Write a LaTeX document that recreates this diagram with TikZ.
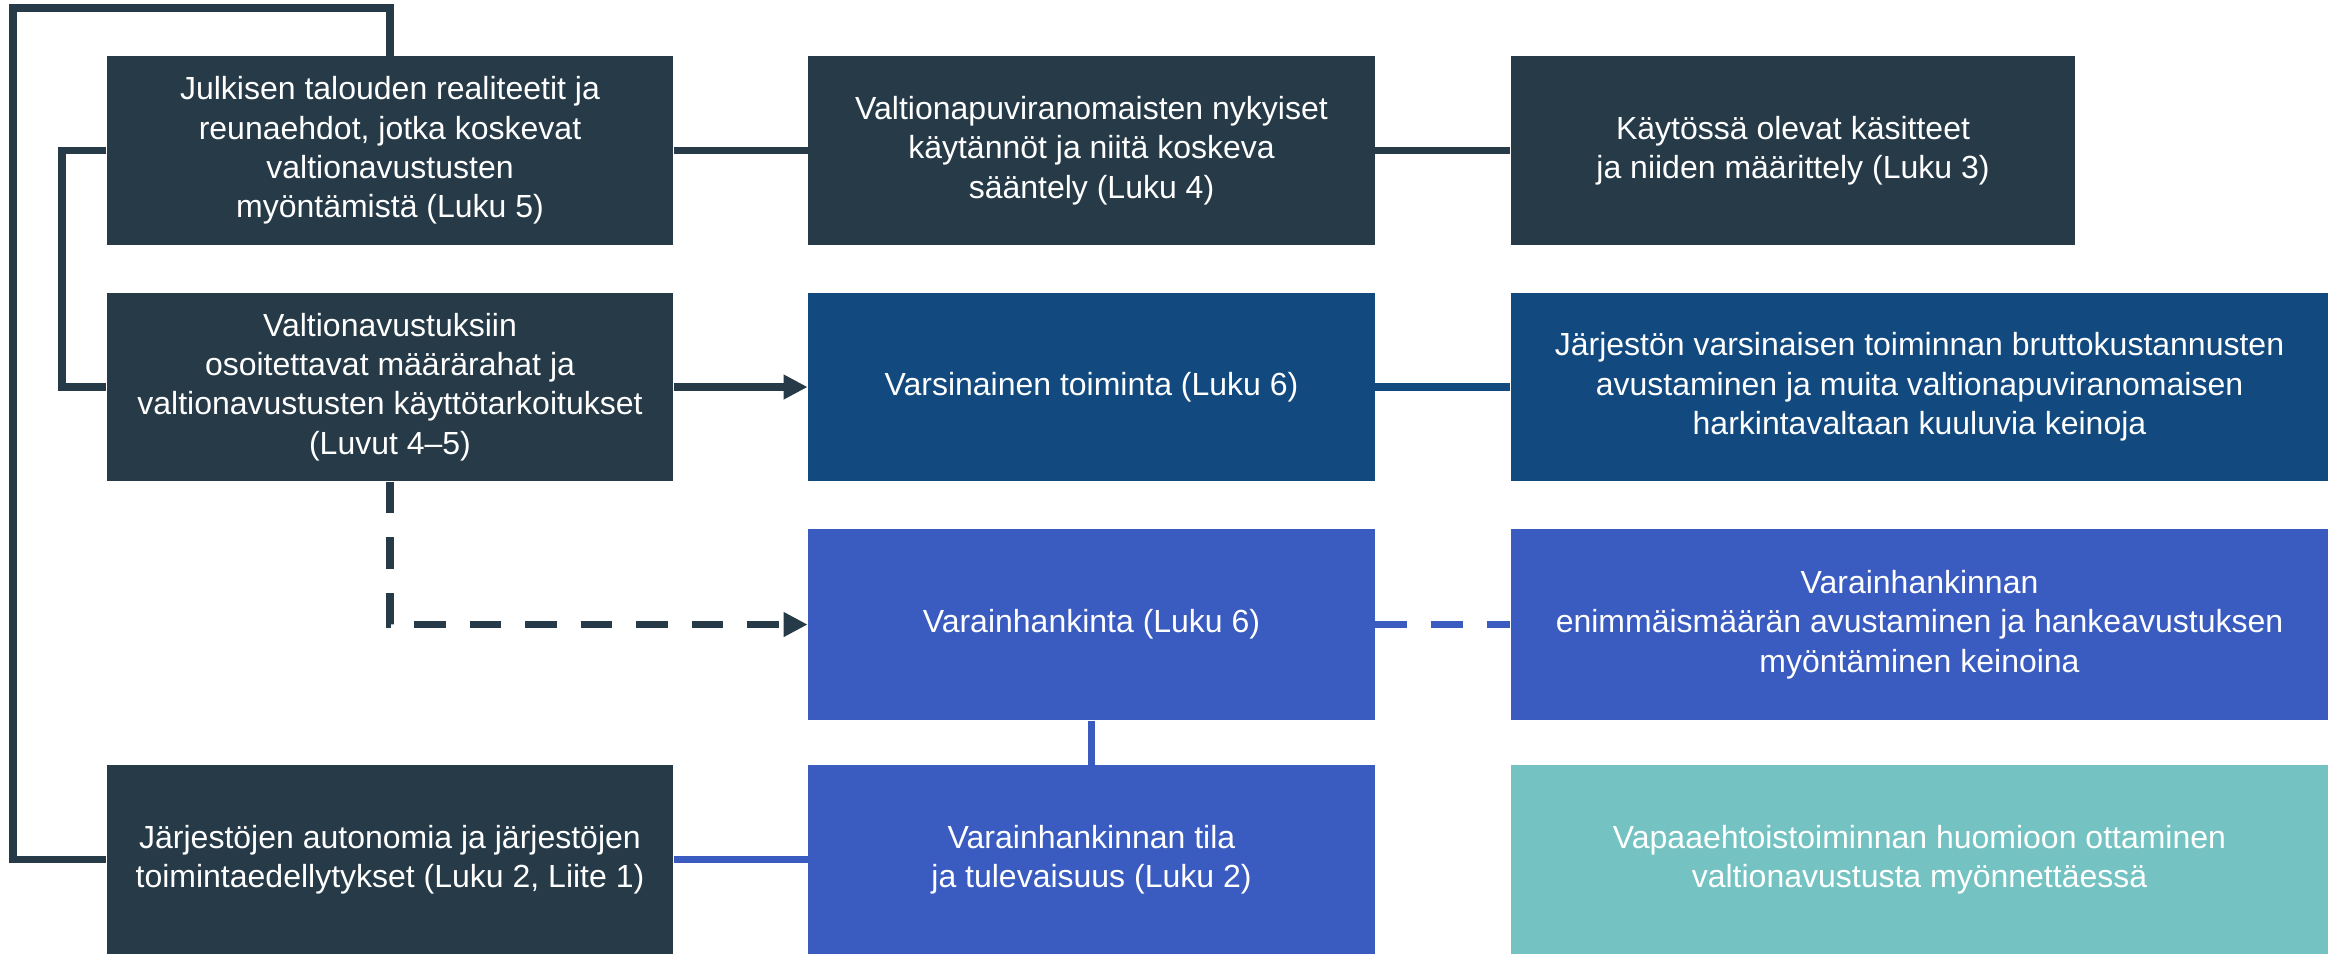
\documentclass[tikz,border=0pt]{standalone}
\usepackage{fontspec}
\setmainfont{Liberation Sans}
\usetikzlibrary{arrows.meta,positioning}

\definecolor{slate}{HTML}{263A48}
\definecolor{navy}{HTML}{124A80}
\definecolor{royal}{HTML}{3A5BBF}
\definecolor{teal}{HTML}{74C3C2}

\begin{document}
\begin{tikzpicture}[x=0.01cm, y=-0.01cm, font=\fontsize{9.1}{11.2}\selectfont,
  box/.style={rectangle, inner sep=0pt, text=white, align=center,
    minimum width=5.66cm, minimum height=1.88cm},
  widebox/.style={box, minimum width=8.17cm},
  link/.style={line width=2.1pt},
  gap/.style={dash pattern=on 9pt off 6.8pt},
  tip/.style={-{Triangle[length=6.8pt, width=6.6pt]}}]

\useasboundingbox (0,0) rectangle (2336,953);

% left column
\node[box, fill=slate] (julkisen) at (390,150.5) {Julkisen talouden realiteetit ja\\ reunaehdot, jotka koskevat\\ valtionavustusten\\ myöntämistä (Luku 5)};
\node[box, fill=slate] (maararahat) at (390,387) {Valtionavustuksiin\\ osoitettavat määrärahat ja\\ valtionavustusten käyttötarkoitukset\\ (Luvut 4--5)};
\node[box, fill=slate] (autonomia) at (390,859.5) {Järjestöjen autonomia ja järjestöjen\\ toimintaedellytykset (Luku 2, Liite 1)};

% middle column
\node[box, fill=slate] (valtio) at (1091.5,150.5) {Valtionapuviranomaisten nykyiset\\ käytännöt ja niitä koskeva\\ sääntely (Luku 4)};
\node[box, fill=navy] (varsinainen) at (1091.5,387) {Varsinainen toiminta (Luku 6)};
\node[box, fill=royal, minimum height=1.91cm] (hankinta) at (1091.5,624.5) {Varainhankinta (Luku 6)};
\node[box, fill=royal] (tila) at (1091.5,859.5) {Varainhankinnan tila\\ ja tulevaisuus (Luku 2)};

% right column
\node[box, fill=slate, minimum width=5.64cm] (kasitteet) at (1793,150.5) {Käytössä olevat käsitteet\\ ja niiden määrittely (Luku 3)};
\node[widebox, fill=navy] (brutto) at (1919.5,387) {Järjestön varsinaisen toiminnan bruttokustannusten\\ avustaminen ja muita valtionapuviranomaisen\\ harkintavaltaan kuuluvia keinoja};
\node[widebox, fill=royal, minimum height=1.91cm] (enimmais) at (1919.5,624.5) {Varainhankinnan\\ enimmäismäärän avustaminen ja hankeavustuksen\\ myöntäminen keinoina};
\node[widebox, fill=teal] (vapaa) at (1919.5,859.5) {Vapaaehtoistoiminnan huomioon ottaminen\\ valtionavustusta myönnettäessä};

\coordinate (corner) at (13,8);

\draw[link, slate] (julkisen) -- (valtio);
\draw[link, slate] (valtio) -- (kasitteet);
\draw[link, slate] (julkisen.west) -- ++(-44,0) |- (maararahat.west);
\draw[link, slate, tip] (maararahat) -- (varsinainen);
\draw[link, slate, gap, tip] (maararahat.south) |- (hankinta.west);
\draw[link, slate] (autonomia.west) -| (corner) -| (julkisen.north);

\draw[link, navy] (varsinainen) -- (brutto);
\draw[link, royal, gap] (hankinta) -- (enimmais);
\draw[link, royal] (hankinta) -- (tila);
\draw[link, royal] (autonomia) -- (tila);

\end{tikzpicture}
\end{document}
